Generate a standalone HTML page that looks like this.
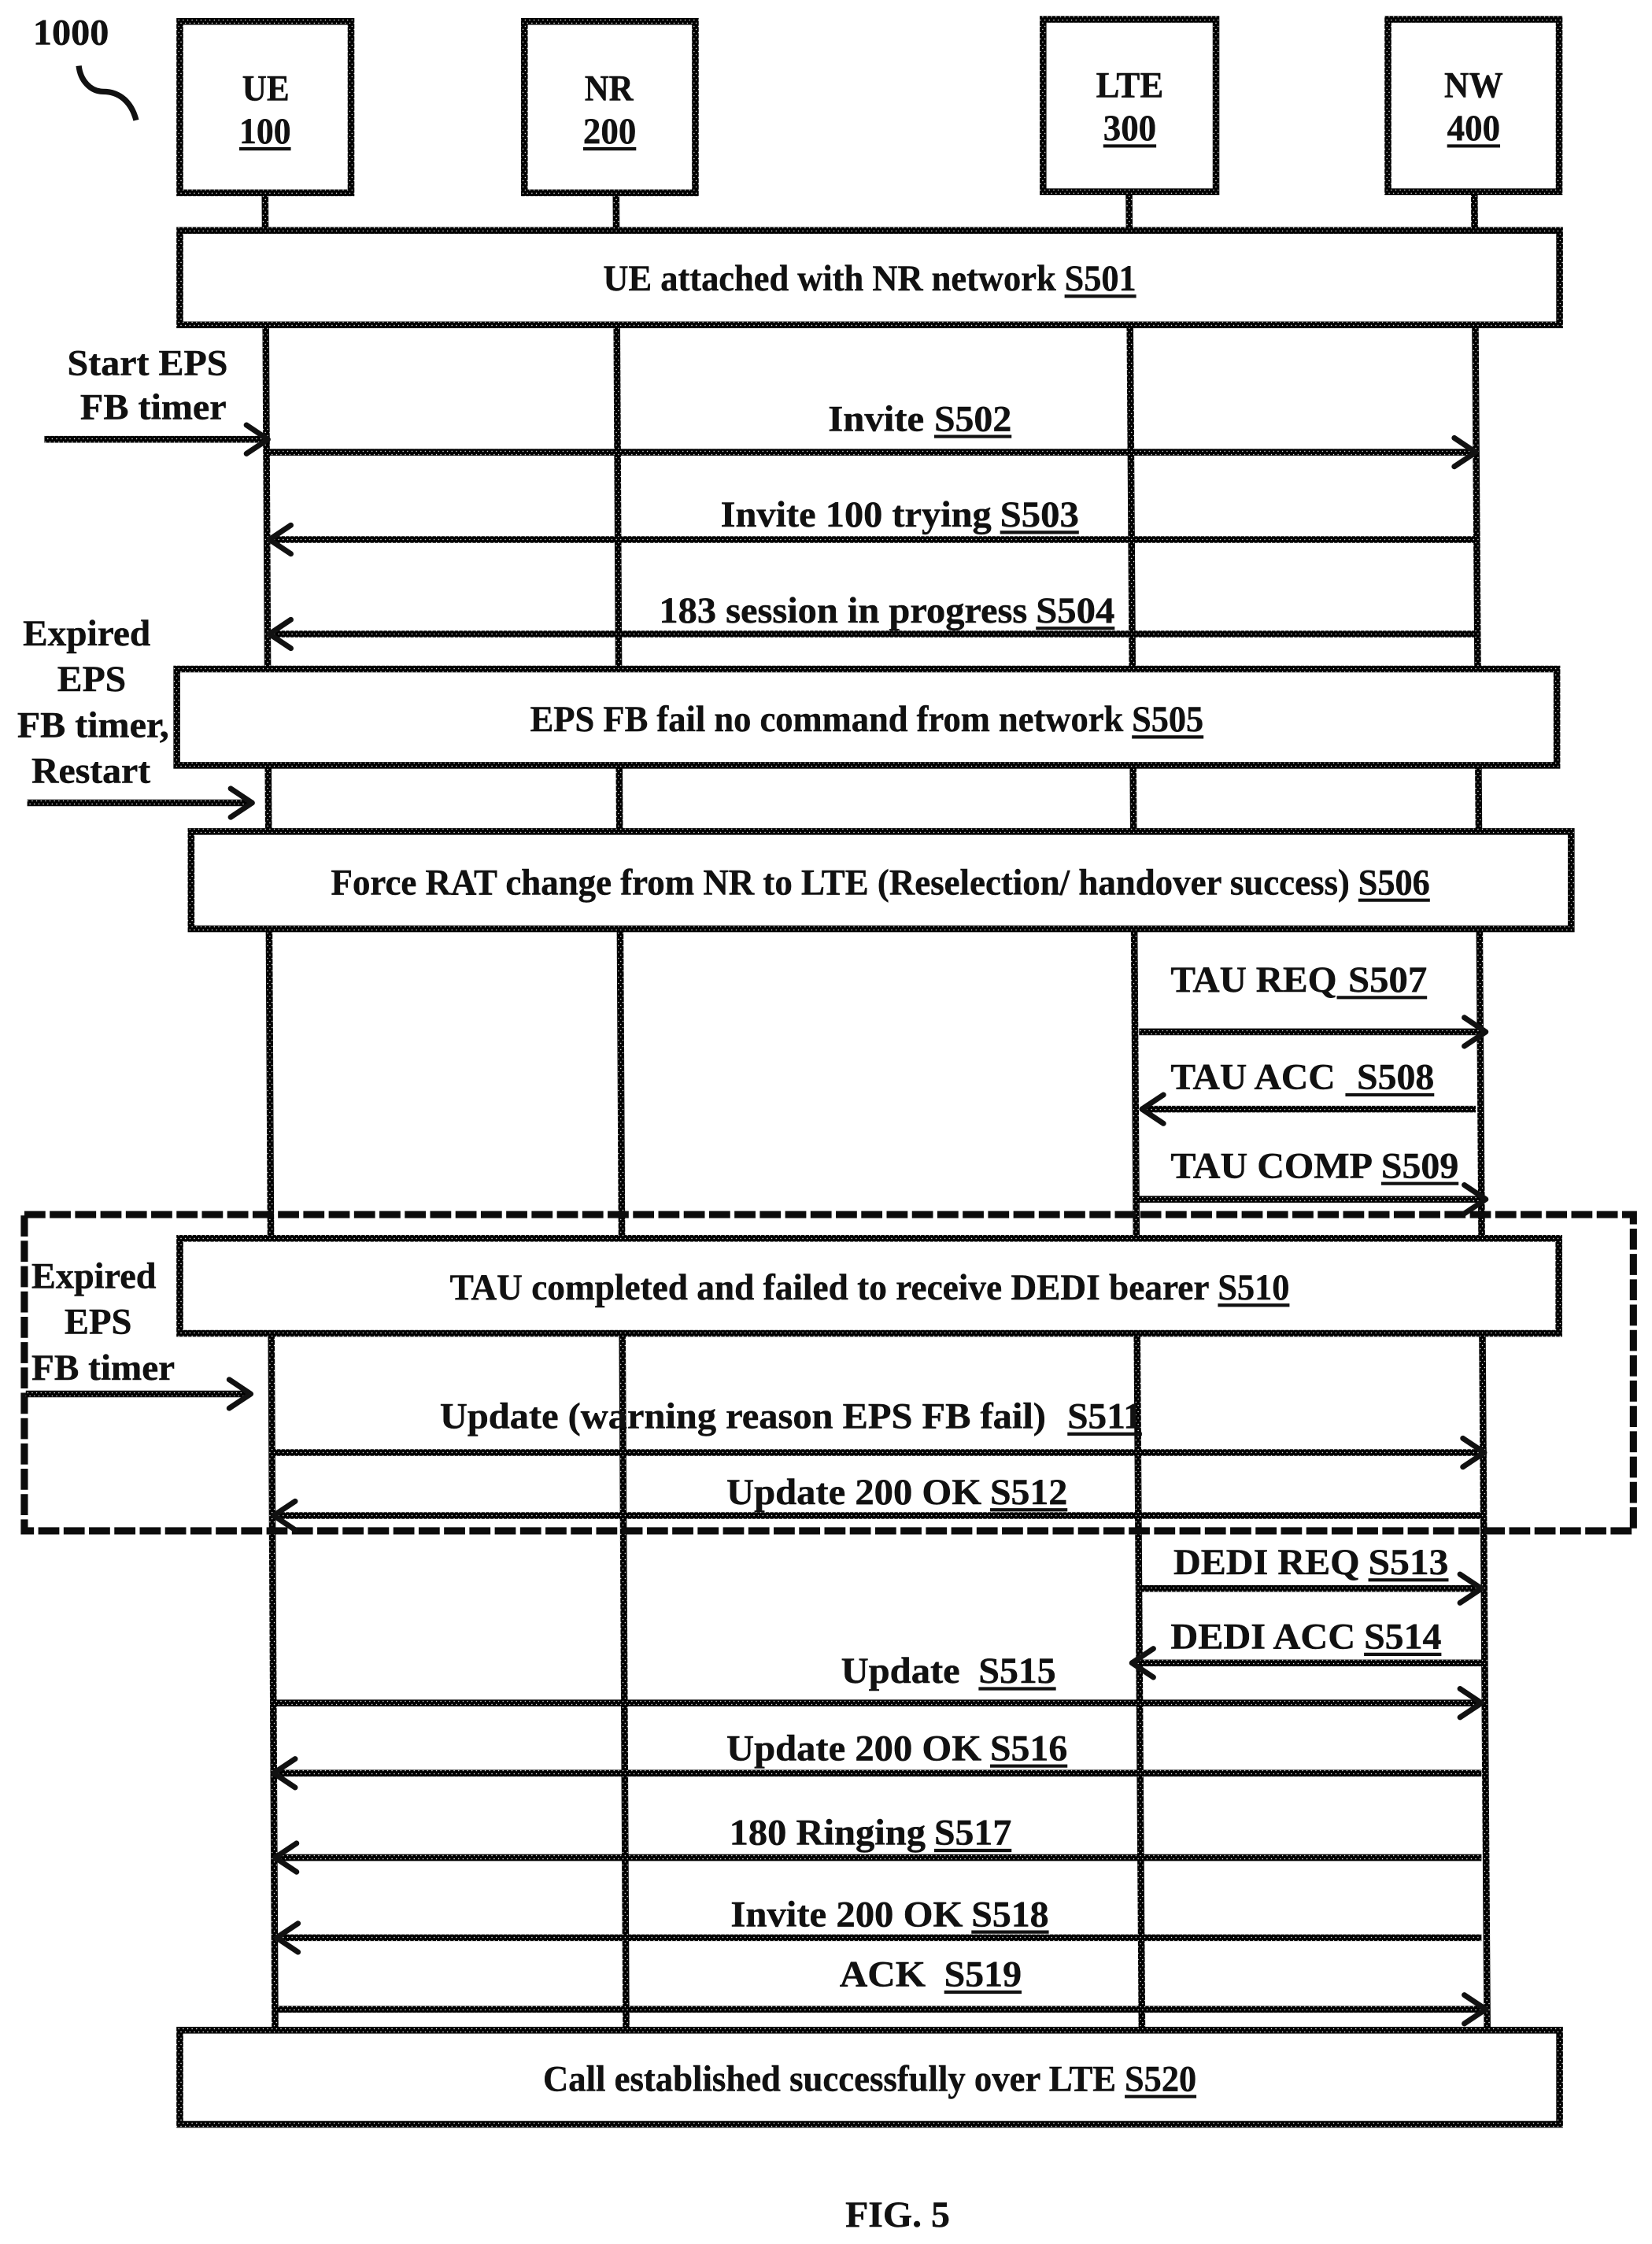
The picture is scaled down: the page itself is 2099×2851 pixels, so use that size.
<!DOCTYPE html>
<html>
<head>
<meta charset="utf-8">
<title>FIG. 5</title>
<style>
html,body{margin:0;padding:0;background:#fff;width:2099px;height:2851px;overflow:hidden}
svg{display:block;width:2099px;height:2851px}
text{font-family:"Liberation Serif",serif;font-weight:bold;font-size:25.500px;fill:#111;stroke:#111;stroke-width:.25}
.l{stroke:url(#h);stroke-width:4.700;fill:none}
.a{stroke:url(#h);stroke-width:4.700;fill:none}
.h{stroke:#111;stroke-width:3.800;fill:none;stroke-linecap:round;stroke-linejoin:round}
.b{stroke:url(#h);stroke-width:4.700;fill:#fff}
</style>
</head>
<body>
<svg xmlns="http://www.w3.org/2000/svg" viewBox="0 0 1153 1568" preserveAspectRatio="none">
<defs>
<pattern id="h" patternUnits="userSpaceOnUse" width="3.100" height="4.400">
<rect width="3.100" height="4.400" fill="#000"/>
<circle cx=".8" cy=".8" r=".4" fill="#fff"/>
<circle cx="2.350" cy="3" r=".4" fill="#fff"/>
</pattern>
</defs>
<rect width="1153" height="1568" fill="#fff"/>

<!-- lifelines -->
<line class="l" x1="185" y1="136" x2="192" y2="1417"/>
<line class="l" x1="430" y1="136" x2="437" y2="1417"/>
<line class="l" x1="788" y1="134" x2="797" y2="1417"/>
<line class="l" x1="1029" y1="134" x2="1038" y2="1417"/>

<!-- head boxes -->
<rect class="b" x="125.500" y="15" width="119.500" height="119.700"/>
<rect class="b" x="366" y="15" width="119.300" height="119.700"/>
<rect class="b" x="728" y="13.500" width="120.700" height="120.500"/>
<rect class="b" x="968.700" y="13.500" width="119.500" height="120.500"/>

<!-- dashed rect -->
<rect x="17" y="848.700" width="1123" height="221" fill="none" stroke="#0c0c0c" stroke-width="5" stroke-dasharray="14.700 3"/>

<!-- bars -->
<rect class="b" x="125.500" y="161" width="963" height="66"/>
<rect class="b" x="123.400" y="467.500" width="963.200" height="67.300"/>
<rect class="b" x="133.400" y="581" width="963.200" height="68"/>
<rect class="b" x="125.500" y="865.300" width="962.500" height="66.400"/>
<rect class="b" x="125.500" y="1418.600" width="963" height="65.800"/>

<!-- squiggle -->
<path d="M55 46 C56 56 63 64 72 64 C84 64 92 72 95 84" fill="none" stroke="#111" stroke-width="4"/>

<!-- arrows -->
<g>
<line class="a" x1="31" y1="307" x2="185" y2="307"/><polyline class="h" points="172,297 187,307 172,317"/>
<line class="a" x1="188" y1="316" x2="1028" y2="316"/><polyline class="h" points="1015,306 1030,316 1015,326"/>
<line class="a" x1="1030" y1="377" x2="190" y2="377"/><polyline class="h" points="203,367 188,377 203,387"/>
<line class="a" x1="1030" y1="443" x2="190" y2="443"/><polyline class="h" points="203,433 188,443 203,453"/>
<line class="a" x1="19" y1="561" x2="174" y2="561"/><polyline class="h" points="161,551 176,561 161,571"/>
<line class="a" x1="795" y1="721" x2="1035" y2="721"/><polyline class="h" points="1022,711 1037,721 1022,731"/>
<line class="a" x1="1030" y1="775" x2="799" y2="775"/><polyline class="h" points="812,765 797,775 812,785"/>
<line class="a" x1="795" y1="838" x2="1035" y2="838"/><polyline class="h" points="1022,828 1037,838 1022,848"/>
<line class="a" x1="18" y1="974" x2="173" y2="974"/><polyline class="h" points="160,964 175,974 160,984"/>
<line class="a" x1="190" y1="1015" x2="1034" y2="1015"/><polyline class="h" points="1021,1005 1036,1015 1021,1025"/>
<line class="a" x1="1034" y1="1059" x2="193" y2="1059"/><polyline class="h" points="206,1049 191,1059 206,1069"/>
<line class="a" x1="795" y1="1110" x2="1032" y2="1110"/><polyline class="h" points="1019,1100 1034,1110 1019,1120"/>
<line class="a" x1="1034" y1="1162" x2="792" y2="1162"/><polyline class="h" points="805,1152 790,1162 805,1172"/>
<line class="a" x1="192" y1="1190" x2="1032" y2="1190"/><polyline class="h" points="1019,1180 1034,1190 1019,1200"/>
<line class="a" x1="1034" y1="1239" x2="193" y2="1239"/><polyline class="h" points="206,1229 191,1239 206,1249"/>
<line class="a" x1="1034" y1="1298" x2="194" y2="1298"/><polyline class="h" points="207,1288 192,1298 207,1308"/>
<line class="a" x1="1034" y1="1354" x2="195" y2="1354"/><polyline class="h" points="208,1344 193,1354 208,1364"/>
<line class="a" x1="192" y1="1404" x2="1035" y2="1404"/><polyline class="h" points="1022,1394 1037,1404 1022,1414"/>
</g>

<!-- underlines -->
<path fill="none" stroke="#111" stroke-width="2.300" d="
M167 104h36 M407 104h37 M770 102h37 M1010 102h37
M743 207h50 M652 305h54 M698 372h55 M723 439h55
M790 515h50 M948 629h50 M933 697h63 M939 765h62 M964 827h54
M850 912h50 M745 1002h52 M691 1055h54 M955 1104h56 M952 1156h54
M683 1180h54 M691 1234h54 M652 1293h54 M678 1350h54 M659 1392h54 M785 1465h50"/>

<!-- text -->
<text x="23" y="31" textLength="53" lengthAdjust="spacingAndGlyphs">1000</text>

<text x="169" y="70" textLength="33" lengthAdjust="spacingAndGlyphs">UE</text>
<text x="167" y="100" textLength="36" lengthAdjust="spacingAndGlyphs">100</text>
<text x="408" y="70" textLength="34" lengthAdjust="spacingAndGlyphs">NR</text>
<text x="407" y="100" textLength="37" lengthAdjust="spacingAndGlyphs">200</text>
<text x="765" y="68" textLength="47" lengthAdjust="spacingAndGlyphs">LTE</text>
<text x="770" y="98" textLength="37" lengthAdjust="spacingAndGlyphs">300</text>
<text x="1008" y="68" textLength="41" lengthAdjust="spacingAndGlyphs">NW</text>
<text x="1010" y="98" textLength="37" lengthAdjust="spacingAndGlyphs">400</text>

<text x="421" y="203" textLength="316" lengthAdjust="spacingAndGlyphs">UE attached with NR network</text>
<text x="743" y="203" textLength="50" lengthAdjust="spacingAndGlyphs">S501</text>

<text x="47" y="262" textLength="112" lengthAdjust="spacingAndGlyphs">Start EPS</text>
<text x="56" y="293" textLength="102" lengthAdjust="spacingAndGlyphs">FB timer</text>

<text x="578" y="301" textLength="67" lengthAdjust="spacingAndGlyphs">Invite</text>
<text x="652" y="301" textLength="54" lengthAdjust="spacingAndGlyphs">S502</text>

<text x="503" y="368" textLength="189" lengthAdjust="spacingAndGlyphs">Invite 100 trying</text>
<text x="698" y="368" textLength="55" lengthAdjust="spacingAndGlyphs">S503</text>

<text x="460" y="435" textLength="257" lengthAdjust="spacingAndGlyphs">183 session in progress</text>
<text x="723" y="435" textLength="55" lengthAdjust="spacingAndGlyphs">S504</text>

<text x="16" y="451" textLength="89" lengthAdjust="spacingAndGlyphs">Expired</text>
<text x="40" y="483" textLength="48" lengthAdjust="spacingAndGlyphs">EPS</text>
<text x="12" y="515" textLength="106" lengthAdjust="spacingAndGlyphs">FB timer,</text>
<text x="22" y="547" textLength="83" lengthAdjust="spacingAndGlyphs">Restart</text>

<text x="370" y="511" textLength="414" lengthAdjust="spacingAndGlyphs">EPS FB fail no command from network</text>
<text x="790" y="511" textLength="50" lengthAdjust="spacingAndGlyphs">S505</text>

<text x="231" y="625" textLength="711" lengthAdjust="spacingAndGlyphs">Force RAT change from NR to LTE (Reselection/ handover success)</text>
<text x="948" y="625" textLength="50" lengthAdjust="spacingAndGlyphs">S506</text>

<text x="817" y="693" textLength="116" lengthAdjust="spacingAndGlyphs">TAU REQ</text>
<text x="941" y="693" textLength="55" lengthAdjust="spacingAndGlyphs">S507</text>

<text x="817" y="761" textLength="115" lengthAdjust="spacingAndGlyphs">TAU ACC</text>
<text x="947" y="761" textLength="54" lengthAdjust="spacingAndGlyphs">S508</text>

<text x="817" y="823" textLength="141" lengthAdjust="spacingAndGlyphs">TAU COMP</text>
<text x="964" y="823" textLength="54" lengthAdjust="spacingAndGlyphs">S509</text>

<text x="314" y="908" textLength="530" lengthAdjust="spacingAndGlyphs">TAU completed and failed to receive DEDI  bearer</text>
<text x="850" y="908" textLength="50" lengthAdjust="spacingAndGlyphs">S510</text>

<text x="22" y="900" textLength="87" lengthAdjust="spacingAndGlyphs">Expired</text>
<text x="45" y="932" textLength="47" lengthAdjust="spacingAndGlyphs">EPS</text>
<text x="22" y="964" textLength="100" lengthAdjust="spacingAndGlyphs">FB timer</text>

<text x="307" y="998" textLength="423" lengthAdjust="spacingAndGlyphs">Update (warning reason EPS FB fail)</text>
<text x="745" y="998" textLength="52" lengthAdjust="spacingAndGlyphs">S511</text>

<text x="507" y="1051" textLength="178" lengthAdjust="spacingAndGlyphs">Update 200 OK</text>
<text x="691" y="1051" textLength="54" lengthAdjust="spacingAndGlyphs">S512</text>

<text x="819" y="1100" textLength="130" lengthAdjust="spacingAndGlyphs">DEDI REQ</text>
<text x="955" y="1100" textLength="56" lengthAdjust="spacingAndGlyphs">S513</text>

<text x="817" y="1152" textLength="129" lengthAdjust="spacingAndGlyphs">DEDI ACC</text>
<text x="952" y="1152" textLength="54" lengthAdjust="spacingAndGlyphs">S514</text>

<text x="587" y="1176" textLength="83" lengthAdjust="spacingAndGlyphs">Update</text>
<text x="683" y="1176" textLength="54" lengthAdjust="spacingAndGlyphs">S515</text>

<text x="507" y="1230" textLength="178" lengthAdjust="spacingAndGlyphs">Update 200 OK</text>
<text x="691" y="1230" textLength="54" lengthAdjust="spacingAndGlyphs">S516</text>

<text x="509" y="1289" textLength="137" lengthAdjust="spacingAndGlyphs">180 Ringing</text>
<text x="652" y="1289" textLength="54" lengthAdjust="spacingAndGlyphs">S517</text>

<text x="510" y="1346" textLength="162" lengthAdjust="spacingAndGlyphs">Invite 200 OK</text>
<text x="678" y="1346" textLength="54" lengthAdjust="spacingAndGlyphs">S518</text>

<text x="586" y="1388" textLength="60" lengthAdjust="spacingAndGlyphs">ACK</text>
<text x="659" y="1388" textLength="54" lengthAdjust="spacingAndGlyphs">S519</text>

<text x="379" y="1461" textLength="400" lengthAdjust="spacingAndGlyphs">Call established successfully over LTE</text>
<text x="785" y="1461" textLength="50" lengthAdjust="spacingAndGlyphs">S520</text>

<text x="590" y="1556" textLength="73" lengthAdjust="spacingAndGlyphs">FIG. 5</text>
</svg>
</body>
</html>
